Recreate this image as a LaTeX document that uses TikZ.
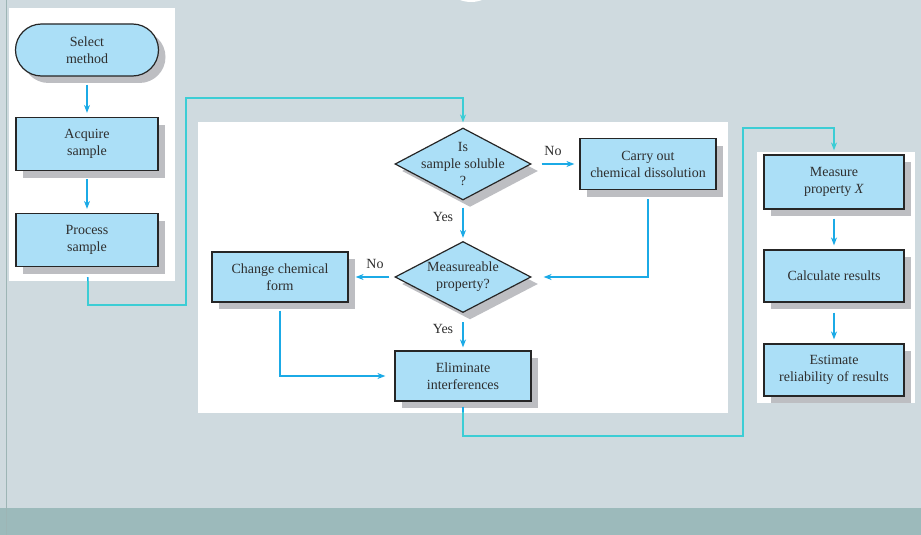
\documentclass[tikz,border=0pt]{standalone}
\usepackage{fontspec}
\setmainfont{Liberation Serif}
\usetikzlibrary{arrows.meta,shapes.geometric,shadows}
\definecolor{bg}{HTML}{CFDADF}
\definecolor{band}{HTML}{9CBABB}
\definecolor{edge}{HTML}{9DB5B5}
\definecolor{boxfill}{HTML}{ABDFF7}
\definecolor{shad}{HTML}{BDBEC2}
\definecolor{flow}{HTML}{1BAAE6}
\definecolor{link}{HTML}{3CCDD5}
\definecolor{ink}{HTML}{2E2E2E}
\begin{document}
\begin{tikzpicture}[x=1pt,y=-1pt,
  every node/.style={font=\fontsize{14}{17}\selectfont, text=ink},
  shade3d/.style={drop shadow={shadow xshift=7pt, shadow yshift=-7pt, fill=shad, opacity=1}},
  proc/.style={draw=black!85, line width=1.2pt, fill=boxfill, align=center, inner sep=2pt, shade3d},
  decision/.style={diamond, draw=black!85, line width=1.2pt, fill=boxfill, inner sep=0pt, minimum width=136pt, minimum height=72pt, shade3d},
  flowarrow/.style={draw=flow, line width=1.5pt, -{Stealth[length=8pt,width=6pt]}},
  flowline/.style={draw=flow, line width=1.5pt},
  linkarrow/.style={draw=link, line width=1.8pt, -{Stealth[length=8pt,width=6pt]}},
  linkline/.style={draw=link, line width=1.8pt},
  lbl/.style={inner sep=0pt}
]
\useasboundingbox (0,0) rectangle (921,535);
\begin{scope}
\clip (0,0) rectangle (921,535);
\fill[bg] (0,0) rectangle (921,535);
\fill[band] (0,508) rectangle (921,535);
\draw[edge, line width=1pt] (6,0) -- (6,535);
\fill[white] (471,-29) circle (31);
\end{scope}

% white panels
\fill[white] (9,8) rectangle (175,281);
\fill[white] (198,122) rectangle (728,413);
\fill[white] (757,152) rectangle (915,403);

% left column
\node[proc, rounded corners=26pt, minimum width=143pt, minimum height=52pt] (sel) at (87,50) {Select\\method};
\node[proc, minimum width=142pt, minimum height=53pt] (acq) at (87,144) {Acquire\\sample};
\node[proc, minimum width=142pt, minimum height=53pt] (prc) at (87,240) {Process\\sample};

% middle
\node[decision] (d1) at (463,164) {};
\node[align=center] at (d1.center) {Is\\sample soluble\\?};
\node[proc, minimum width=136pt, minimum height=51pt] (dis) at (648,164) {Carry out\\chemical dissolution};
\node[decision, minimum height=71pt] (d2) at (463,277) {};
\node[align=center] at (d2.center) {Measureable\\property?};
\node[proc, minimum width=136pt, minimum height=50pt] (chg) at (280,277) {Change chemical\\form};
\node[proc, minimum width=136pt, minimum height=50pt] (eli) at (463,376) {Eliminate\\interferences};

% right column
\node[proc, minimum width=140pt, minimum height=54pt] (mea) at (834,182) {Measure\\property \textit{X}};
\node[proc, minimum width=140pt, minimum height=52pt] (cal) at (834,276) {Calculate results};
\node[proc, minimum width=140pt, minimum height=52pt] (est) at (834,370) {Estimate\\reliability of results};

% labels
\node[lbl] at (553,151) {No};
\node[lbl] at (443,217) {Yes};
\node[lbl] at (375,264) {No};
\node[lbl] at (443,329) {Yes};

% blue flow arrows
\draw[flowarrow, shorten <=8pt, shorten >=4pt] (sel) -- (acq);
\draw[flowarrow, shorten <=8pt, shorten >=4pt] (acq) -- (prc);
\draw[flowarrow, shorten <=10pt, shorten >=5pt] (d1.east) -- (dis.west);
\draw[flowarrow, shorten <=7pt, shorten >=3pt] (d1.south) -- (d2.north);
\draw[flowarrow, shorten <=9pt, shorten >=12pt] (dis.south) |- (d2.east);
\draw[flowarrow, shorten <=5pt, shorten >=7pt] (d2.west) -- (chg.east);
\draw[flowarrow, shorten <=8pt, shorten >=9pt] (chg.south) |- (eli.west);
\draw[flowarrow, shorten <=9pt, shorten >=3pt] (d2.south) -- (eli.north);
\draw[flowarrow, shorten <=9pt, shorten >=4pt] (mea) -- (cal);
\draw[flowarrow, shorten <=10pt, shorten >=4pt] (cal) -- (est);

% teal links between panels
\coordinate (p1) at (88,281);
\coordinate (p2) at (463,412);
\draw[flowline, shorten <=10pt] (prc.south) -- (p1);
\draw[flowline, shorten <=5pt] (eli.south) -- (p2);
\draw[linkarrow, shorten >=5pt] (p1) -- (88,305) -- (186,305) -- (186,98) -- (d1.north |- 0,98) -- (d1.north);
\draw[linkarrow, shorten >=4pt] (p2) -- (463,436) -- (743,436) -- (743,128) -- (mea.north |- 0,128) -- (mea.north);
\end{tikzpicture}
\end{document}
